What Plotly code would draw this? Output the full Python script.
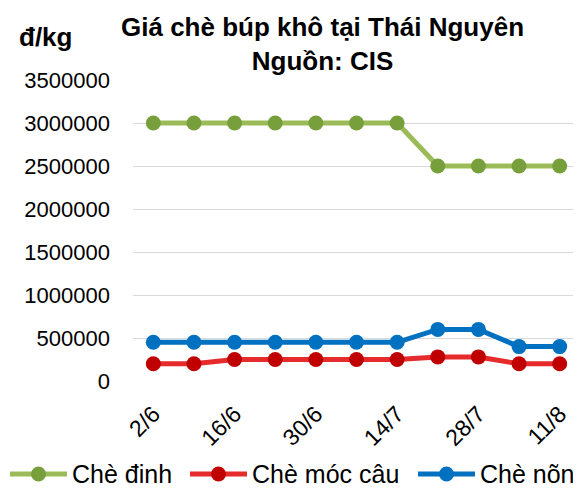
import plotly.graph_objects as go

dates = ["2/6", "9/6", "16/6", "23/6", "30/6", "7/7", "14/7", "21/7", "28/7", "4/8", "11/8"]
che_dinh = [3000000, 3000000, 3000000, 3000000, 3000000, 3000000, 3000000, 2500000, 2500000, 2500000, 2500000]
che_moc_cau = [200000, 200000, 250000, 250000, 250000, 250000, 250000, 280000, 280000, 200000, 200000]
che_non = [450000, 450000, 450000, 450000, 450000, 450000, 450000, 600000, 600000, 400000, 400000]
y_ticks = [0, 500000, 1000000, 1500000, 2000000, 2500000, 3000000, 3500000]

FONT = "Liberation Sans, Arial, sans-serif"
OFF = 8  # page body margin, the figure starts 8px in
W, H = 581 - OFF, 488 - OFF
L, R, T, B = 133 - OFF, 1, 80 - OFF, 488 - 381


series = [
    ("Chè đinh", che_dinh, "#9BBB59", "#77A03D"),
    ("Chè móc câu", che_moc_cau, "#E52B2B", "#C00000"),
    ("Chè nõn", che_non, "#0070C0", "#0070C0"),
]
# legend entry left edges (px) - the legend is drawn by hand, excel style
legend_x = [10, 190, 418]
legend_y = 474


def px(x, y):
    # pixel position on the screen -> paper coords
    x, y = x - OFF, y - OFF
    return (x - L) / (W - L - R), (H - B - y) / (H - T - B)


fig = go.Figure()
shapes = []
anns = []
for (name, vals, line_c, mark_c), lx in zip(series, legend_x):
    fig.add_trace(go.Scatter(
        x=dates, y=vals, name=name, mode="lines+markers",
        line=dict(color=line_c, width=5),
        marker=dict(color=mark_c, size=15, line=dict(width=0)),
    ))
    x0, y0 = px(lx, legend_y)
    x1, _ = px(lx + 57, legend_y)
    shapes.append(dict(type="line", xref="paper", yref="paper",
                       x0=x0, x1=x1, y0=y0, y1=y0,
                       line=dict(color=line_c, width=5)))
    cx0, cy0 = px(lx + 28.5 - 7.5, legend_y - 7.5)
    cx1, cy1 = px(lx + 28.5 + 7.5, legend_y + 7.5)
    shapes.append(dict(type="circle", xref="paper", yref="paper",
                       x0=cx0, x1=cx1, y0=cy1, y1=cy0,
                       fillcolor=mark_c, line=dict(width=0)))
    tx_, ty_ = px(lx + 60, legend_y)
    anns.append(dict(text=name, x=tx_, y=ty_, xref="paper", yref="paper",
                     showarrow=False, xanchor="left", yanchor="middle",
                     font=dict(size=25)))

tx, ty = px(322, 44)
ux, uy = px(45, 37)
anns.append(dict(text="<b>Giá chè búp khô tại Thái Nguyên<br>Nguồn: CIS</b>",
                 x=tx, y=ty, xref="paper", yref="paper", showarrow=False,
                 xanchor="center", yanchor="middle",
                 font=dict(size=26), align="center"))
anns.append(dict(text="<b>đ/kg</b>", x=ux, y=uy, xref="paper", yref="paper",
                 showarrow=False, xanchor="center", yanchor="middle",
                 font=dict(size=26)))

fig.update_layout(
    width=W, height=H,
    margin=dict(l=L, r=R, t=T, b=B, autoexpand=False),
    paper_bgcolor="white", plot_bgcolor="white",
    font=dict(family=FONT, size=22, color="#000000"),
    showlegend=False,
    xaxis=dict(type="category", tickvals=dates[::2], tickangle=-45,
               range=[-0.5, len(dates) - 0.5],
               showgrid=False, showline=False, ticks="", automargin=False,
               tickfont=dict(size=23), ticklabelstandoff=14),
    yaxis=dict(range=[0, 3500000], tickvals=y_ticks,
               ticktext=[str(v) for v in y_ticks],
               showgrid=True, gridcolor="#D9D9D9", gridwidth=1,
               zeroline=False, showline=False, ticks="", automargin=False,
               tickfont=dict(size=22), ticklabelstandoff=22),
    shapes=shapes,
    annotations=anns,
)

fig.write_html("out.html")
